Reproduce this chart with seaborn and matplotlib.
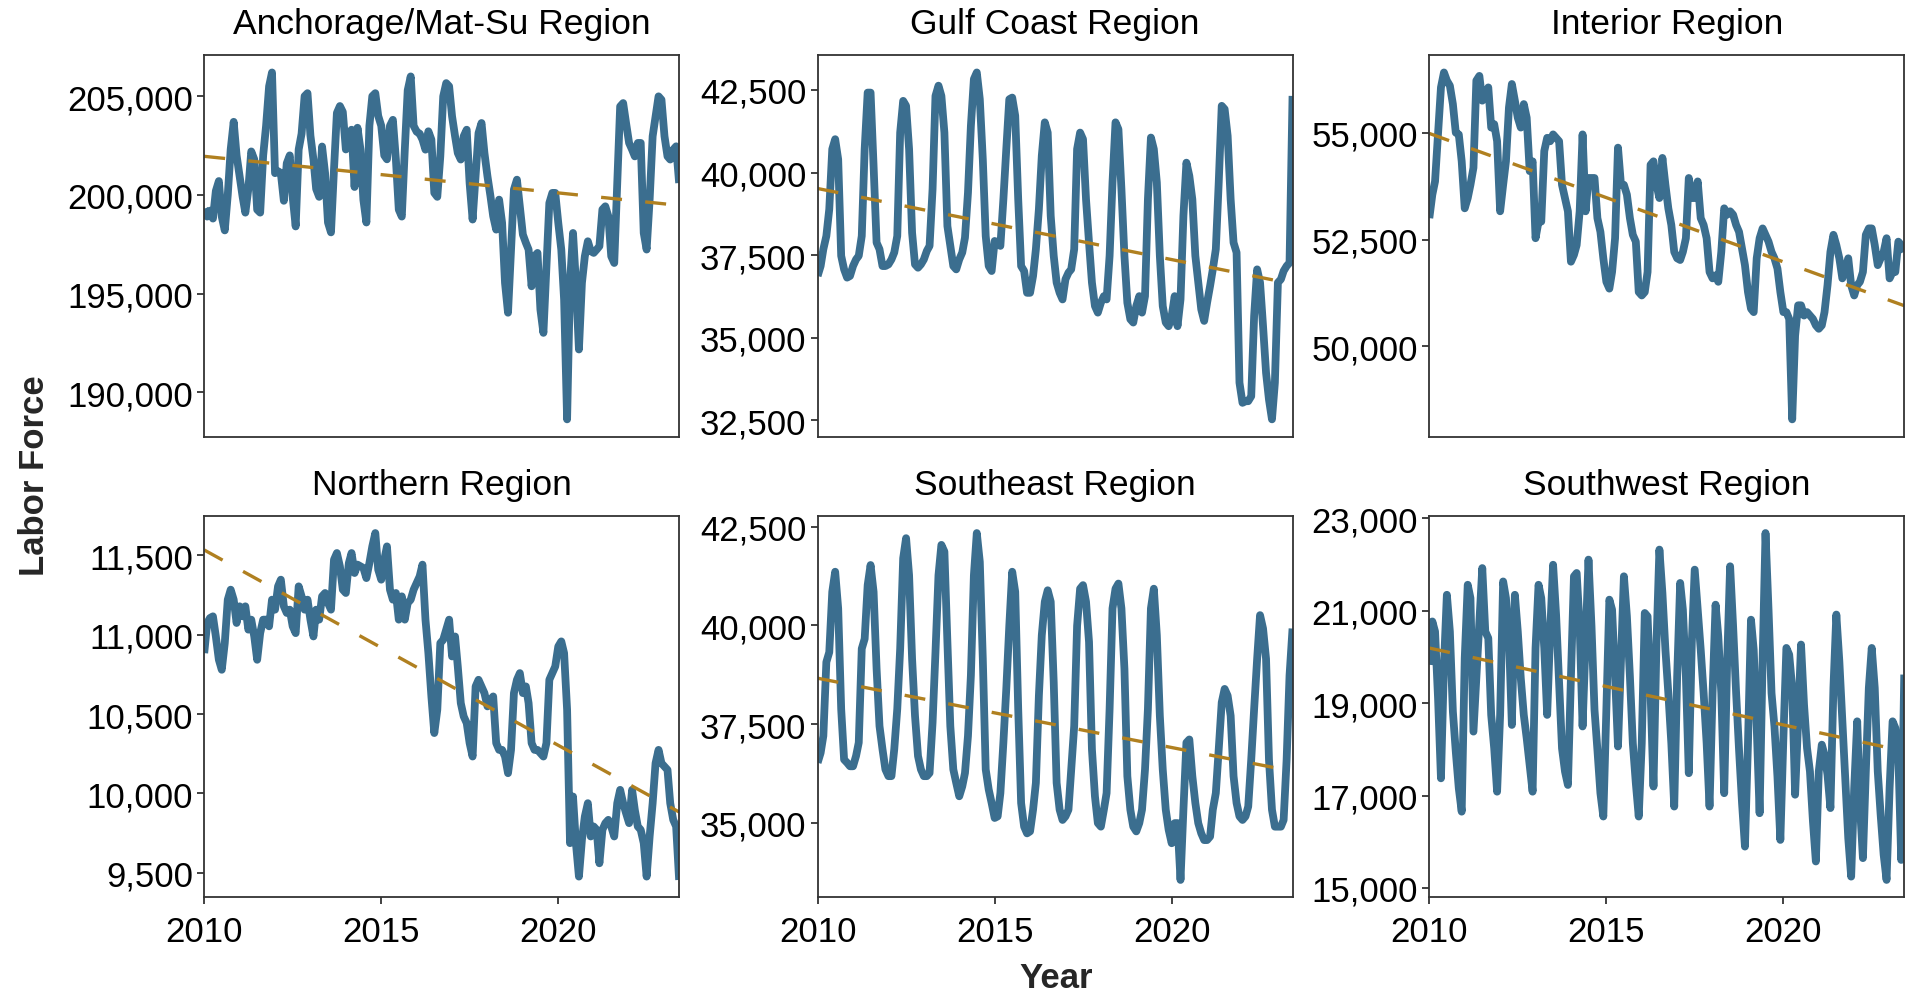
"""Monthly labor force by Alaska region, with linear trend lines."""
import matplotlib
matplotlib.use("Agg")
import matplotlib.pyplot as plt
import numpy as np
import pandas as pd
import seaborn as sns
from matplotlib import font_manager
from matplotlib.ticker import FixedLocator, FuncFormatter

REGIONS = ["Anchorage/Mat-Su Region", "Gulf Coast Region", "Interior Region",
           "Northern Region", "Southeast Region", "Southwest Region"]

# monthly values, Jan 2010 .. Jun 2023
ANCHORAGE = [
    199300, 198900, 199200, 198800, 200200, 200700, 198900, 198200, 200000, 202300, 203700, 202000,
    200950, 199900, 199100, 200300, 202200, 201800, 199250, 199100, 202000, 203500, 205500, 206200,
    201100, 201200, 201100, 199700, 201600, 202000, 199900, 198400, 202300, 203100, 205000, 205150,
    203000, 201800, 200300, 199900, 202450, 201100, 198600, 198100, 201300, 204150, 204500, 204200,
    202300, 203000, 203300, 200400, 203400, 202300, 199750, 198600, 203500, 205000, 205150, 204000,
    203500, 202000, 201800, 203500, 203800, 201800, 199250, 198900, 202300, 205300, 206000, 203500,
    203200, 203100, 202800, 202290, 203220, 202800, 200100, 199900, 201950, 204990, 205660, 205500,
    203980, 202970, 202120, 201790, 202970, 203300, 200600, 198750, 200940, 203130, 203640, 202120,
    200940, 199930, 198920, 198240, 199760, 198580, 195540, 194030, 197230, 200270, 200770, 199420,
    197990, 197570, 197230, 195370, 196890, 197060, 194190, 193010, 196390, 199590, 200100, 200100,
    198580, 197230, 194700, 188630, 195540, 198070, 195540, 192170, 195540, 196890, 197650, 197150,
    197060, 197230, 197400, 199260, 199420, 198920, 196890, 196550, 200600, 204480, 204650, 203640,
    202630, 202290, 201950, 202630, 202630, 198070, 197230, 199760, 202970, 203980, 204990, 204820,
    202970, 201950, 201790, 202290, 202460, 200600,
]
GULF_COAST = [
    36870, 37170, 37680, 38080, 38890, 40710, 41010, 40400, 37480, 37070, 36820, 36870,
    37170, 37370, 37480, 38080, 40710, 42420, 42420, 40200, 37880, 37680, 37170, 37170,
    37220, 37370, 37580, 38080, 41210, 42170, 42020, 40710, 38180, 37220, 37120, 37220,
    37370, 37630, 37780, 39500, 42320, 42630, 42320, 41210, 38380, 37780, 37170, 37070,
    37370, 37580, 38030, 39390, 41410, 42830, 43030, 42220, 40400, 38080, 37170, 37020,
    37930, 37880, 37780, 39190, 40710, 42220, 42270, 41720, 39190, 37170, 37020, 36360,
    36360, 36870, 37680, 38890, 40510, 41520, 41210, 38690, 37480, 36670, 36360, 36160,
    36770, 36970, 37070, 37680, 40710, 41210, 41010, 39190, 37880, 36670, 35960, 35760,
    36060, 36260, 36160, 37480, 39700, 41520, 41310, 39500, 37480, 36060, 35560, 35460,
    35960, 36260, 35760, 36260, 39190, 41060, 40710, 39700, 37480, 35960, 35460, 35350,
    35660, 36260, 35350, 36160, 38690, 40300, 39900, 39190, 37480, 36670, 35860, 35510,
    36060, 36570, 37070, 37680, 39700, 42020, 41920, 41110, 39190, 37880, 37580, 33640,
    33030, 33080, 33080, 33230, 35660, 37070, 36670, 35350, 33940, 33130, 32530, 33640,
    36670, 36770, 37020, 37170, 37270, 42320,
]
INTERIOR = [
    53000, 53550, 53860, 54960, 56060, 56410, 56220, 56100, 55670, 55000, 54960, 54330,
    53230, 53470, 53780, 54180, 56220, 56330, 55750, 55820, 56060, 55120, 55200, 54800,
    53160, 53780, 54330, 55590, 56140, 55750, 55350, 55120, 55670, 55350, 54100, 54330,
    52530, 52920, 52920, 54570, 54880, 54800, 54960, 54880, 54800, 53780, 53470, 53160,
    51980, 52140, 52370, 53160, 54960, 53160, 53940, 53940, 53940, 53000, 52680, 52060,
    51510, 51350, 51740, 52530, 54650, 53780, 53780, 53550, 53000, 52610, 52450, 51270,
    51190, 51270, 51740, 54250, 54330, 53780, 53470, 54410, 53780, 53230, 52840, 52210,
    52060, 52020, 52210, 52530, 53940, 53470, 53470, 53860, 53000, 52840, 52530, 51740,
    51590, 51660, 51510, 52210, 53230, 53080, 53160, 53080, 52840, 52680, 52290, 51900,
    51270, 50880, 50800, 52060, 52530, 52760, 52610, 52450, 52210, 52060, 51820, 51270,
    50800, 50800, 50640, 48290, 50250, 50960, 50960, 50720, 50800, 50720, 50640, 50490,
    50410, 50490, 50800, 51430, 52210, 52610, 52370, 52060, 51590, 51820, 52060, 51430,
    51190, 51430, 51510, 51740, 52610, 52760, 52760, 52370, 51900, 52060, 52210, 52530,
    51590, 51740, 51740, 52450, 52370, 52210,
]
NORTHERN = [
    10884, 11074, 11105, 11116, 10989, 10842, 10779, 10947, 11221, 11284, 11221, 11074,
    11179, 11116, 11179, 11032, 11095, 10989, 10842, 11010, 11095, 11095, 11053, 11221,
    11158, 11305, 11347, 11179, 11137, 11158, 11053, 11010, 11305, 11242, 11158, 11221,
    11095, 10989, 11158, 11095, 11242, 11263, 11200, 11158, 11473, 11515, 11431, 11284,
    11263, 11452, 11515, 11389, 11442, 11431, 11421, 11357, 11452, 11557, 11641, 11410,
    11347, 11473, 11557, 11284, 11221, 11263, 11095, 11242, 11095, 11200, 11221, 11284,
    11326, 11368, 11442, 11095, 10884, 10611, 10380, 10527, 10947, 10968, 11032, 11095,
    10863, 10989, 10800, 10569, 10485, 10443, 10317, 10232, 10674, 10716, 10674, 10632,
    10548, 10590, 10611, 10317, 10274, 10274, 10232, 10127, 10274, 10632, 10716, 10758,
    10632, 10674, 10569, 10317, 10274, 10274, 10253, 10232, 10317, 10716, 10758, 10800,
    10926, 10958, 10884, 10527, 9686, 9980, 9686, 9475, 9707, 9854, 9938, 9728,
    9791, 9770, 9559, 9770, 9812, 9833, 9791, 9728, 9938, 10022, 9938, 9875,
    9812, 10022, 9896, 9791, 9770, 9686, 9475, 9728, 9938, 10190, 10274, 10190,
    10169, 10148, 9938, 9833, 9791, 9454,
]
SOUTHEAST = [
    36520, 36770, 37200, 39070, 39320, 40850, 41360, 40430, 37880, 36600, 36520, 36430,
    36430, 36690, 37030, 39410, 39660, 41020, 41530, 40850, 38900, 37450, 36860, 36350,
    36180, 36180, 36860, 37880, 39410, 41700, 42210, 41270, 39150, 37710, 36690, 36350,
    36180, 36180, 36260, 37540, 39320, 41270, 42040, 41870, 39580, 37450, 36350, 36010,
    35670, 35920, 36260, 37200, 38730, 41270, 42340, 41610, 39150, 36350, 35840, 35500,
    35120, 35160, 35750, 37030, 38390, 39990, 41360, 40850, 37880, 35500, 34900, 34730,
    34780, 35330, 36010, 38220, 39750, 40600, 40890, 40600, 38560, 36010, 35330, 35070,
    35160, 35330, 36350, 37450, 39990, 40930, 41020, 40600, 39580, 36860, 35670, 34990,
    34900, 35330, 35750, 37880, 40430, 40930, 41060, 40430, 38900, 36180, 35330, 34900,
    34780, 34990, 35330, 36350, 37880, 40430, 40930, 39750, 37710, 36350, 35330, 34820,
    34480, 34990, 34990, 33550, 35330, 37030, 37110, 36180, 35500, 34990, 34730, 34560,
    34560, 34650, 35330, 35750, 36860, 38050, 38390, 38220, 37710, 36180, 35500, 35160,
    35070, 35160, 35410, 36600, 37880, 39150, 40260, 39920, 39150, 36600, 35330, 34900,
    34900, 34900, 35070, 36600, 38730, 39920,
]
SOUTHWEST = [
    19828, 20767, 20550, 19106, 17373, 19828, 21344, 20550, 18817, 17951, 17157, 16651,
    19972, 21561, 21272, 18384, 19539, 20694, 21922, 20550, 20406, 18745, 18023, 17084,
    18745, 21633, 21272, 20406, 18528, 21344, 20550, 19539, 18745, 18240, 17662, 17084,
    20189, 21561, 21272, 20189, 18745, 20550, 21994, 20911, 19467, 18023, 17518, 17229,
    19578, 21744, 21816, 20661, 18495, 20300, 22105, 20661, 18856, 17990, 17051, 16546,
    18856, 21239, 21022, 19578, 18062, 19939, 21744, 20878, 19578, 18134, 17268, 16546,
    18134, 20950, 20878, 19217, 17195, 20300, 22322, 21383, 20156, 19217, 18134, 16762,
    19578, 21600, 21022, 19578, 17484, 20300, 21888, 21022, 20156, 19217, 18134, 16762,
    19217, 21130, 20444, 19217, 17051, 19939, 21961, 20661, 19217, 17990, 16834, 15896,
    18134, 20805, 20156, 18495, 16618, 19939, 22680, 21022, 19217, 18495, 17412, 16040,
    18245, 20194, 20050, 19328, 17018, 18606, 20267, 18967, 18028, 17523, 16440, 15574,
    17523, 18101, 17884, 17451, 16729, 19328, 20916, 19906, 18606, 17306, 16079, 15246,
    17162, 18606, 16801, 15646, 17523, 19328, 20194, 19328, 17523, 16584, 15718, 15174,
    17162, 18606, 18462, 17884, 15607, 19617,
]
SERIES = [ANCHORAGE, GULF_COAST, INTERIOR, NORTHERN, SOUTHEAST, SOUTHWEST]

Y_TICKS = [
    [190000, 195000, 200000, 205000],
    [32500, 35000, 37500, 40000, 42500],
    [50000, 52500, 55000],
    [9500, 10000, 10500, 11000, 11500],
    [35000, 37500, 40000, 42500],
    [15000, 17000, 19000, 21000, 23000],
]
X_TICKS = [2010, 2015, 2020]

LINE_BLUE = "#3B6E8F"
TREND_GOLD = "#B08020"
FRAME = "#333333"

sns.set_style("ticks")
installed = {f.name for f in font_manager.fontManager.ttflist}
if "Liberation Sans Narrow" in installed:
    FONT, TICK_SIZE, TITLE_SIZE, LABEL_SIZE = "Liberation Sans Narrow", 30, 30, 30
else:
    FONT, TICK_SIZE, TITLE_SIZE, LABEL_SIZE = "Liberation Sans", 25, 25.5, 25
plt.rcParams["font.family"] = [FONT, "DejaVu Sans"]

months = pd.date_range("2010-01-01", periods=len(ANCHORAGE), freq="MS")
year = months.year + (months.dayofyear - 1) / 365.25
frames = [pd.DataFrame({"region": r, "year": year, "labor_force": v}) for r, v in zip(REGIONS, SERIES)]
data = pd.concat(frames, ignore_index=True)

fig = plt.figure(figsize=(19.05, 9.95), dpi=100)
lefts = [0.1072, 0.4292, 0.7503]
bottoms = [0.5601, 0.0972]
width, height = 0.2493, 0.3835

for i, region in enumerate(REGIONS):
    row, col = divmod(i, 3)
    ax = fig.add_axes([lefts[col], bottoms[row], width, height])
    sub = data[data["region"] == region]
    sns.lineplot(data=sub, x="year", y="labor_force", ax=ax, color=LINE_BLUE, lw=5.6,
                 estimator=None, solid_joinstyle="round", solid_capstyle="butt")
    sns.regplot(data=sub, x="year", y="labor_force", ax=ax, scatter=False, ci=None, truncate=True,
                color=TREND_GOLD, line_kws={"lw": 2.4, "linestyle": (0, (6.3, 7.0))})

    # ggplot-style 5% padding around the data range
    lo, hi = sub["labor_force"].min(), sub["labor_force"].max()
    pad = (hi - lo) * 0.05
    ax.set_ylim(lo - pad, hi + pad)
    ax.set_xlim(sub["year"].min(), sub["year"].max())
    ax.yaxis.set_major_locator(FixedLocator(Y_TICKS[i]))
    ax.yaxis.set_major_formatter(FuncFormatter(lambda v, _: f"{v:,.0f}"))
    ax.xaxis.set_major_locator(FixedLocator(X_TICKS))
    ax.set(xlabel="", ylabel="")
    ax.tick_params(axis="both", direction="out", length=5, width=1.3, color=FRAME,
                   labelsize=TICK_SIZE, labelcolor="black", pad=3)
    ax.tick_params(axis="x", pad=8)
    if row == 0:
        ax.tick_params(axis="x", bottom=False, labelbottom=False)
    for spine in ax.spines.values():
        spine.set_visible(True)
        spine.set_color(FRAME)
        spine.set_linewidth(1.3)
    ax.text(0.5, 1.083, region, transform=ax.transAxes, ha="center", va="center",
            fontsize=TITLE_SIZE, color="black")

fig.text(0.018, 0.522, "Labor Force", rotation=90, ha="center", va="center",
         fontsize=LABEL_SIZE, fontweight="bold")
fig.text(0.5543, 0.017, "Year", ha="center", va="center", fontsize=LABEL_SIZE, fontweight="bold")

fig.savefig("out.png", dpi=100, facecolor="white")
